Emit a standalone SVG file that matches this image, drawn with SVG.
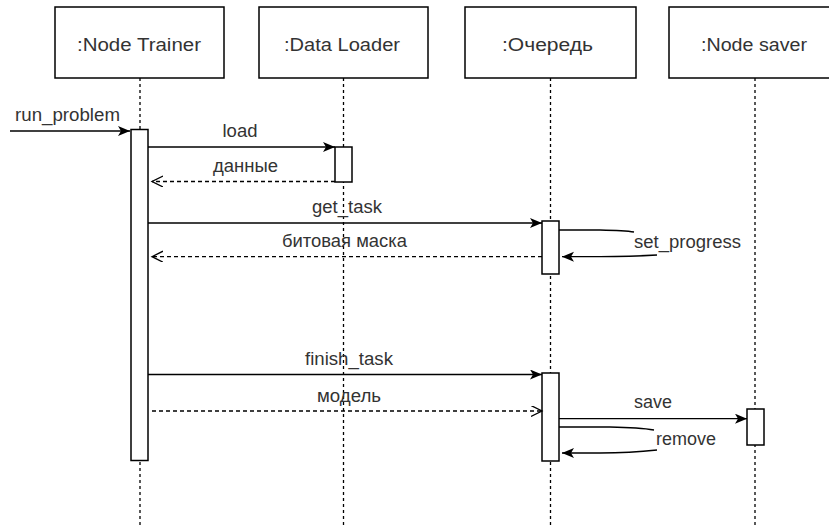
<svg xmlns="http://www.w3.org/2000/svg" width="829" height="527" viewBox="0 0 829 527">
<style>
.box{fill:#fff;stroke:#000;stroke-width:1.5}
.act{fill:#fff;stroke:#000;stroke-width:1.5}
.life{stroke:#000;stroke-width:1.3;stroke-dasharray:3 3;fill:none}
.msg{stroke:#000;stroke-width:1.3;fill:none}
.ret{stroke:#000;stroke-width:1.3;fill:none;stroke-dasharray:4 3}
text{font-family:"Liberation Sans",Arial,sans-serif;fill:#333;text-anchor:middle}
.t{font-size:17.5px}
.m{font-size:17.5px}
</style>
<defs>
<marker id="fa" markerWidth="14" markerHeight="12" refX="12" refY="5" orient="auto" markerUnits="userSpaceOnUse">
<path d="M0,0 L12,5 L0,10 L3,5 Z" fill="#000"/>
</marker>
<marker id="oa" markerWidth="14" markerHeight="12" refX="11" refY="5.5" orient="auto" markerUnits="userSpaceOnUse">
<path d="M0,0 L11,5.5 L0,11" fill="none" stroke="#000" stroke-width="1.3"/>
</marker>
</defs>
<g id="lifelines">
<line class="life" x1="140" y1="78" x2="140" y2="527"/>
<line class="life" x1="343.5" y1="78" x2="343.5" y2="527"/>
<line class="life" x1="550.5" y1="78" x2="550.5" y2="527"/>
<line class="life" x1="755" y1="78" x2="755" y2="527"/>
</g>
<g id="node-trainer">
<rect class="box" x="55" y="7" width="169" height="71"/>
<text class="t" x="139" y="51" textLength="124" lengthAdjust="spacingAndGlyphs">:Node Trainer</text>
</g>
<g id="data-loader">
<rect class="box" x="259" y="7" width="169" height="71"/>
<text class="t" x="342" y="51" textLength="116" lengthAdjust="spacingAndGlyphs">:Data Loader</text>
</g>
<g id="queue">
<rect class="box" x="465" y="7" width="171" height="71"/>
<text class="t" x="547.5" y="51" textLength="91" lengthAdjust="spacingAndGlyphs">:Очередь</text>
</g>
<g id="node-saver">
<rect class="box" x="669" y="7" width="172" height="71"/>
<text class="t" x="754" y="51" textLength="106" lengthAdjust="spacingAndGlyphs">:Node saver</text>
</g>
<g id="activations">
<rect class="act" x="131" y="129.5" width="17" height="331"/>
<rect class="act" x="335" y="147" width="17" height="35"/>
<rect class="act" x="542" y="221" width="17" height="53"/>
<rect class="act" x="542" y="373" width="17" height="88"/>
<rect class="act" x="747" y="409" width="17" height="36"/>
</g>
<g id="connectors">
<line class="msg" x1="10" y1="131" x2="130" y2="131" marker-end="url(#fa)"/>
<line class="msg" x1="148" y1="147" x2="335" y2="147" marker-end="url(#fa)"/>
<line class="ret" x1="335" y1="181.5" x2="152" y2="181.5" marker-end="url(#oa)"/>
<line class="msg" x1="148" y1="223" x2="542" y2="223" marker-end="url(#fa)"/>
<line class="ret" x1="542" y1="256.7" x2="152" y2="256.7" marker-end="url(#oa)"/>
<path class="msg" d="M559,230 L600,230 Q625,230.5 634,232"/>
<path class="msg" d="M657,255 Q630,256.7 600,256.7 L562,256.7" marker-end="url(#fa)"/>
<line class="msg" x1="148" y1="374.5" x2="542" y2="374.5" marker-end="url(#fa)"/>
<line class="ret" x1="152" y1="411" x2="542" y2="411" marker-end="url(#oa)"/>
<line class="msg" x1="559" y1="418.7" x2="747" y2="418.7" marker-end="url(#fa)"/>
<path class="msg" d="M559,427 L610,427 Q640,427.5 654,430"/>
<path class="msg" d="M657,450 Q630,453 600,453 L562,453" marker-end="url(#fa)"/>
</g>
<g id="labels">
<text class="m" x="67.5" y="121" textLength="105" lengthAdjust="spacingAndGlyphs">run_problem</text>
<text class="m" x="240" y="136.5" textLength="35" lengthAdjust="spacingAndGlyphs">load</text>
<text class="m" x="245.5" y="172" textLength="65" lengthAdjust="spacingAndGlyphs">данные</text>
<text class="m" x="347" y="213" textLength="70" lengthAdjust="spacingAndGlyphs">get_task</text>
<text class="m" x="344.5" y="247" textLength="125" lengthAdjust="spacingAndGlyphs">битовая маска</text>
<text class="m" x="687.5" y="247.5" textLength="107" lengthAdjust="spacingAndGlyphs">set_progress</text>
<text class="m" x="349" y="365" textLength="88" lengthAdjust="spacingAndGlyphs">finish_task</text>
<text class="m" x="349" y="402" textLength="64" lengthAdjust="spacingAndGlyphs">модель</text>
<text class="m" x="653" y="408" textLength="38" lengthAdjust="spacingAndGlyphs">save</text>
<text class="m" x="686" y="445" textLength="60" lengthAdjust="spacingAndGlyphs">remove</text>
</g>
</svg>
